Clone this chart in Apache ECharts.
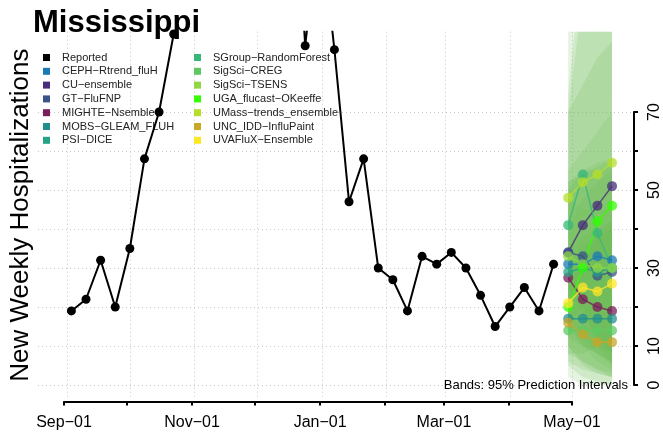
<!DOCTYPE html>
<html>
<head>
<meta charset="utf-8">
<script src="https://cdn.jsdelivr.net/npm/echarts@6/dist/echarts.min.js"></script>
<style>
  html, body { margin: 0; padding: 0; background: #fff; }
  #chart { width: 663px; height: 433px; }
</style>
</head>
<body>
<div id="chart"></div>
<script>
// reported weekly counts (values above the plot top are clipped)
const reportedDates = [
  '2022-09-03', '2022-09-10', '2022-09-17', '2022-09-24', '2022-10-01', '2022-10-08',
  '2022-10-15', '2022-10-22', '2022-10-29', '2022-11-05', '2022-11-12', '2022-11-19',
  '2022-11-26', '2022-12-03', '2022-12-10', '2022-12-17', '2022-12-24', '2022-12-31',
  '2023-01-07', '2023-01-14', '2023-01-21', '2023-01-28', '2023-02-04', '2023-02-11',
  '2023-02-18', '2023-02-25', '2023-03-04', '2023-03-11', '2023-03-18', '2023-03-25',
  '2023-04-01', '2023-04-08', '2023-04-15', '2023-04-22'
]
const reportedValues = [
  19, 22, 32, 20, 35, 58, 70, 90, 130, 180, 240, 290, 320, 300, 230, 150, 87, 120,
  86, 47, 58, 30, 27, 19, 33, 31, 34, 30, 23, 15, 20, 25, 19, 31
]

// forecasts
const forecastDates = ['2023-04-29', '2023-05-06', '2023-05-13', '2023-05-20']
const modelNames = [
  'CEPH−Rtrend_fluH', 'CU−ensemble', 'GT−FluFNP', 'MIGHTE−Nsemble', 'MOBS−GLEAM_FLUH',
  'PSI−DICE', 'SGroup−RandomForest', 'SigSci−CREG', 'SigSci−TSENS', 'UGA_flucast−OKeeffe',
  'UMass−trends_ensemble', 'UNC_IDD−InfluPaint', 'UVAFluX−Ensemble'
]
const modelColors = [
  '#1b7ab5', '#472d7b', '#3b528b', '#7a1d5c', '#21908d',
  '#26a383', '#35b779', '#5ec962', '#8fd744', '#33ff00',
  '#b5de2b', '#c8a628', '#fde725'
]
const medianValues = [
  [31, 31, 33, 32], [34, 41, 46, 51], [34, 33, 28, 29], [27.5, 22, 20, 19], [17, 17, 17, 17],
  [29, 30, 29, 30], [41, 54, 39, 30], [14, 14, 14, 14], [33, 31, 30, 30], [20, 30, 42, 46],
  [48, 52, 54, 57], [16, 13, 11, 11], [21, 25, 24, 26]
]
// 95% prediction intervals
const lowerValues = [
  [10, 6, 4, 2], [15, 10, 8, 6], [18, 12, 8, 5], [10, 5, 3, 2], [6, 4, 3, 2],
  [12, 10, 8, 6], [15, 20, 10, 5], [2, 0, 0, 0], [15, 10, 6, 4], [8, 8, 10, 8],
  [25, 18, 12, 8], [5, 2, 1, 0], [8, 6, 4, 3]
]
const upperValues = [
  [55, 60, 65, 70], [150, 200, 250, 300], [52, 55, 57, 58], [48, 45, 45, 45], [32, 36, 38, 40],
  [50, 55, 55, 56], [70, 77, 84, 88], [30, 34, 38, 42], [52, 54, 56, 58], [70, 100, 130, 160],
  [75, 110, 140, 170], [35, 38, 40, 42], [40, 48, 52, 55]
]

// axes
const monthTicks = [
  '2022-09-01', '2022-10-01', '2022-11-01', '2022-12-01', '2023-01-01',
  '2023-02-01', '2023-03-01', '2023-04-01', '2023-05-01'
]
const monthLabels = ['2022-09-01', '2022-11-01', '2023-01-01', '2023-03-01', '2023-05-01']
const yTicks = [0, 10, 20, 30, 40, 50, 60, 70]
const yLabels = [0, 10, 30, 50, 70]
const monthAbbr = ['Jan', 'Feb', 'Mar', 'Apr', 'May', 'Jun', 'Jul', 'Aug', 'Sep', 'Oct', 'Nov', 'Dec']

const toTime = s => Date.parse(s + 'T00:00:00Z')
const gridLine = { show: true, lineStyle: { color: '#c8c8c8', type: [1, 3], width: 1 } }

const chart = echarts.init(document.getElementById('chart'))

// one polygon per model: upper edge left to right, lower edge back
const bandSeries = modelNames.map((name, i) => ({
  type: 'custom',
  name: name + ' band',
  xAxisIndex: 0,
  yAxisIndex: 0,
  z: 2,
  clip: true,
  silent: true,
  encode: { x: 0, y: [1, 2] },
  data: forecastDates.map((d, k) => [toTime(d), lowerValues[i][k], upperValues[i][k]]),
  renderItem: (params, api) => {
    if (params.dataIndex !== 0) return null
    const pts = []
    forecastDates.forEach((d, k) => pts.push(api.coord([toTime(d), upperValues[i][k]])))
    for (let k = forecastDates.length - 1; k >= 0; k--) {
      pts.push(api.coord([toTime(forecastDates[k]), lowerValues[i][k]]))
    }
    return {
      type: 'polygon',
      shape: { points: pts },
      style: { fill: 'rgba(100, 185, 80, 0.17)', stroke: null }
    }
  }
}))

const forecastSeries = modelNames.map((name, i) => ({
  type: 'line',
  name: name,
  xAxisIndex: 0,
  yAxisIndex: 0,
  z: 3,
  data: forecastDates.map((d, k) => [toTime(d), medianValues[i][k]]),
  symbol: 'circle',
  symbolSize: 10,
  color: modelColors[i],
  itemStyle: { color: modelColors[i], opacity: 0.75 },
  lineStyle: { color: modelColors[i], width: 1.5, opacity: 0.8 }
}))

const dateLabel = v => {
  const d = new Date(v)
  return monthAbbr[d.getUTCMonth()] + '−' + String(d.getUTCDate()).padStart(2, '0')
}

const legendBase = {
  orient: 'vertical',
  top: 52,
  padding: 0,
  itemGap: 2.8,
  itemWidth: 7,
  itemHeight: 7,
  icon: 'rect',
  z: 1,
  itemStyle: { opacity: 1 },
  textStyle: { fontSize: 11, color: '#222', padding: [0, 0, 0, 7] }
}

chart.setOption({
  animation: false,
  textStyle: { fontFamily: 'Liberation Sans, Arial, sans-serif', color: '#000' },
  title: {
    text: 'Mississippi',
    left: 33,
    top: 8,
    padding: 0,
    textStyle: { fontSize: 31, fontWeight: 'bold', color: '#000' }
  },
  legend: [
    Object.assign({}, legendBase, { left: 43, data: ['Reported'].concat(modelNames.slice(0, 6)) }),
    Object.assign({}, legendBase, { left: 194, data: modelNames.slice(6) })
  ],
  grid: [
    { left: 34.6, top: 31.7, width: 600.4, height: 366.9 },
    { left: 64, top: 380, width: 508, height: 21.5 },
    { left: 600, top: 112, width: 35, height: 273 }
  ],
  xAxis: [
    {
      type: 'value',
      gridIndex: 0,
      min: toTime('2022-08-18'),
      max: toTime('2023-05-31'),
      axisLine: { show: false },
      axisTick: { show: false, customValues: monthTicks.map(toTime) },
      axisLabel: { show: false },
      splitLine: gridLine
    },
    {
      type: 'value',
      gridIndex: 1,
      min: toTime('2022-09-01'),
      max: toTime('2023-05-01'),
      position: 'bottom',
      axisLine: { show: true, onZero: false, lineStyle: { color: '#000', width: 2 } },
      axisTick: { show: true, length: 4, lineStyle: { color: '#000', width: 2 }, customValues: monthTicks.map(toTime) },
      axisLabel: {
        show: true,
        customValues: monthLabels.map(toTime),
        fontSize: 16,
        color: '#000',
        margin: 13,
        formatter: dateLabel
      },
      splitLine: { show: false }
    },
    {
      type: 'value',
      gridIndex: 2,
      show: false
    }
  ],
  yAxis: [
    {
      type: 'value',
      gridIndex: 0,
      min: -3.48,
      max: 90.6,
      position: 'left',
      name: 'New Weekly Hospitalizations',
      nameLocation: 'middle',
      nameRotate: 90,
      nameGap: 4,
      nameTextStyle: { fontSize: 26, color: '#000' },
      axisLine: { show: false },
      axisTick: { show: false, customValues: yTicks },
      axisLabel: { show: false },
      splitLine: gridLine
    },
    {
      type: 'value',
      gridIndex: 1,
      show: false
    },
    {
      type: 'value',
      gridIndex: 2,
      min: 0,
      max: 70,
      interval: 10,
      position: 'right',
      axisLine: { show: true, onZero: false, lineStyle: { color: '#000', width: 2 } },
      axisTick: { show: true, inside: false, length: 4, lineStyle: { color: '#000', width: 2 }, customValues: yTicks },
      axisLabel: { show: true, customValues: yLabels, rotate: 90, fontSize: 16, color: '#000', margin: 13 },
      splitLine: { show: false }
    }
  ],
  graphic: [
    {
      type: 'text',
      x: 628,
      y: 385,
      z: 10,
      style: {
        text: 'Bands: 95% Prediction Intervals',
        fontSize: 13,
        fontFamily: 'Liberation Sans, Arial, sans-serif',
        fill: '#000',
        textAlign: 'right',
        textVerticalAlign: 'middle'
      }
    }
  ],
  series: bandSeries.concat(forecastSeries, [
    {
      type: 'line',
      name: 'Reported',
      xAxisIndex: 0,
      yAxisIndex: 0,
      z: 3,
      data: reportedDates.map((d, k) => [toTime(d), reportedValues[k]]),
      symbol: 'circle',
      symbolSize: 9,
      color: '#000',
      itemStyle: { color: '#000' },
      lineStyle: { color: '#000', width: 2 }
    }
  ])
})
</script>
</body>
</html>
